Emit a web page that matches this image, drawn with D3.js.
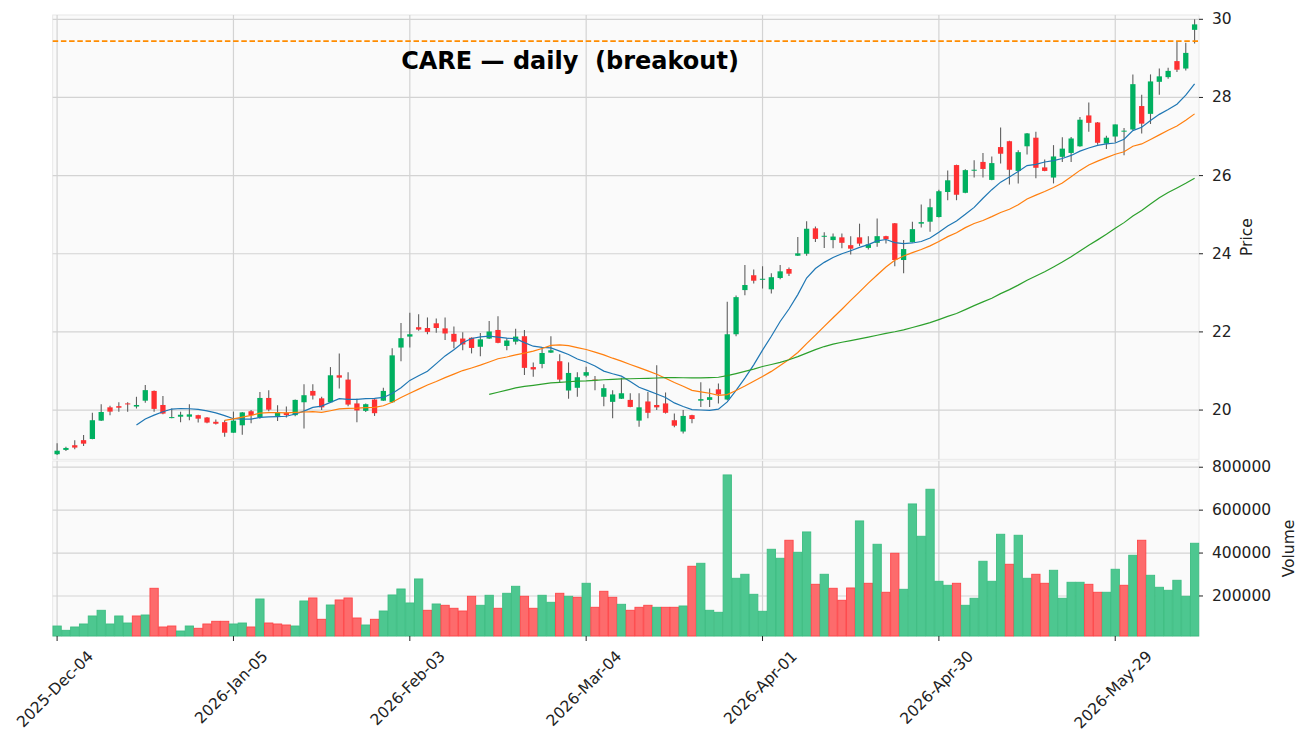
<!DOCTYPE html>
<html>
<head>
<meta charset="utf-8">
<script src="https://cdn.jsdelivr.net/npm/d3@7"></script>
<style>
  html, body { margin: 0; padding: 0; background: #fff; }
  svg text { font-family: 'DejaVu Sans', sans-serif; fill: #222; }
</style>
</head>
<body>
<svg id="chart" width="1309" height="750"></svg>
<script>
/* ════════════════════════════════════════
   CARE — daily candles + volume (breakout)
════════════════════════════════════════ */
const opens = [
  18.87,18.98,19.10,19.23,19.26,19.73,20.07,20.10,20.17,20.09,
  20.24,20.49,20.13,19.80,19.83,19.83,19.87,19.81,19.70,19.69,
  19.42,19.61,19.97,19.81,20.31,19.85,19.93,19.87,20.20,20.49,
  20.30,20.20,20.89,20.78,20.17,19.98,20.27,20.24,20.20,21.60,
  21.88,22.12,22.10,22.22,22.09,21.95,21.83,21.85,21.62,21.83,
  22.05,21.64,21.75,21.89,21.10,21.18,21.47,21.25,20.50,20.57,
  20.88,20.78,20.34,20.21,20.29,20.26,19.73,20.22,20.13,20.17,
  19.74,19.45,19.87,20.24,20.26,20.53,20.27,21.94,23.07,23.45,
  23.34,23.09,23.38,23.61,23.95,24.00,24.65,24.44,24.35,24.42,
  24.22,24.42,24.15,24.28,24.45,24.78,23.84,24.30,24.77,24.82,
  24.94,25.58,26.27,25.56,26.13,26.35,25.89,26.73,26.88,26.12,
  26.75,26.97,26.21,25.95,26.48,26.58,26.75,27.54,27.36,26.82,
  27.00,27.13,27.18,27.78,27.58,28.40,28.52,28.93,28.74,29.73
];
const highs = [
  19.15,19.06,19.23,19.36,19.93,20.15,20.11,20.20,20.20,20.34,
  20.64,20.50,20.36,20.04,19.96,20.15,19.88,19.82,19.76,19.74,
  19.96,19.95,20.00,20.46,20.51,20.12,20.09,20.27,20.66,20.66,
  20.34,21.10,21.45,20.97,20.29,20.17,20.28,20.57,21.58,22.23,
  22.49,22.45,22.37,22.34,22.37,22.14,21.99,21.86,21.97,22.28,
  22.40,21.84,22.08,22.05,21.22,21.59,21.89,21.43,21.22,20.97,
  21.11,20.87,20.66,20.51,20.83,20.43,20.43,20.46,21.15,20.45,
  19.91,20.00,19.88,20.71,20.55,20.68,22.77,22.93,23.71,23.60,
  23.68,23.50,23.71,23.65,24.43,24.83,24.70,24.55,24.52,24.52,
  24.45,24.77,24.45,24.90,24.46,24.79,24.35,24.82,25.26,25.41,
  25.64,26.13,26.28,26.16,26.39,26.58,26.49,27.23,26.89,26.65,
  27.09,27.12,26.41,26.78,26.98,26.99,27.50,27.87,27.37,27.02,
  27.31,27.22,28.59,28.07,28.59,28.74,28.76,29.44,29.40,30.00
];
const lows = [
  18.85,18.95,19.00,19.08,19.25,19.72,19.87,19.96,19.96,20.04,
  20.19,19.96,19.89,19.79,19.69,19.74,19.68,19.66,19.63,19.32,
  19.42,19.37,19.66,19.78,19.97,19.72,19.81,19.84,19.53,20.27,
  20.00,20.18,20.55,20.10,19.69,19.95,19.85,20.23,20.19,21.25,
  21.60,22.03,21.94,21.98,21.79,21.58,21.53,21.45,21.38,21.82,
  21.71,21.53,21.68,20.90,20.85,21.07,21.46,20.72,20.29,20.34,
  20.84,20.51,20.10,19.79,20.28,20.07,19.57,19.79,20.00,19.91,
  19.56,19.40,19.66,20.08,20.08,20.17,20.25,21.89,22.94,23.24,
  23.11,22.98,23.35,23.43,23.94,23.95,24.30,24.15,24.14,24.14,
  23.98,24.20,24.11,24.18,24.26,23.68,23.50,24.29,24.67,24.56,
  24.93,25.37,25.37,25.55,25.95,25.95,25.88,26.31,25.77,25.80,
  26.54,25.93,26.11,25.80,26.35,26.35,26.74,27.12,26.79,26.68,
  26.85,26.52,27.17,27.08,27.32,28.07,28.48,28.65,28.69,29.38
];
const closes = [
  18.96,19.03,19.04,19.14,19.74,19.95,19.96,20.06,20.15,20.13,
  20.51,20.03,19.91,19.82,19.88,19.89,19.78,19.68,19.65,19.42,
  19.73,19.94,19.87,20.31,20.01,19.93,19.87,20.26,20.38,20.37,
  20.07,20.89,20.83,20.14,19.99,20.15,19.92,20.49,21.40,21.84,
  21.94,22.06,22.00,22.10,21.96,21.75,21.68,21.59,21.81,22.01,
  21.72,21.78,21.88,21.08,21.04,21.46,21.53,20.78,20.95,20.84,
  20.97,20.76,20.56,20.40,20.43,20.08,20.07,19.93,20.07,19.93,
  19.60,19.85,19.77,20.28,20.33,20.40,21.94,22.89,23.20,23.31,
  23.36,23.40,23.55,23.49,24.01,24.64,24.38,24.46,24.44,24.28,
  24.13,24.26,24.24,24.45,24.37,23.84,24.12,24.63,24.81,25.19,
  25.60,25.88,25.51,26.14,26.15,26.17,26.32,26.56,26.15,26.60,
  27.08,26.20,26.12,26.49,26.69,26.95,27.43,27.35,26.84,26.97,
  27.31,27.15,28.34,27.33,28.41,28.54,28.68,28.71,29.14,29.87
];
const volumes = [
  60000,40000,55500,69500,106800,133300,69500,106800,74100,106800,
  111400,235900,55500,60100,36800,60100,49400,69500,82000,82000,
  69500,74100,55500,186000,74100,69500,64800,60100,176700,190700,
  91400,158000,181400,190700,97400,64800,91400,130000,204700,232600,
  167400,279300,133300,162700,156600,142700,130000,198600,156600,203300,
  142700,212600,245200,198600,142700,203300,170600,212600,198600,193900,
  259200,147300,221900,193900,161300,133300,147300,156600,147300,147300,
  147300,153400,338500,352400,133300,124000,764100,282500,301200,207900,
  128700,417700,375800,459700,403700,498400,254500,301200,235900,180000,
  237300,549700,259200,441000,217300,399100,231200,628900,478300,697400,
  268500,249900,259200,156600,189300,361800,268500,487600,347800,483000,
  282500,301200,259200,319800,189300,263900,263900,254500,217300,217300,
  324500,249900,389700,459700,296500,240600,226600,273200,198600,445700
];

const tickIdx    = [0, 20, 40, 60, 80, 100, 120];
const tickLabels = ['2025-Dec-04','2026-Jan-05','2026-Feb-03','2026-Mar-04','2026-Apr-01','2026-Apr-30','2026-May-29'];
const priceTicks = [20, 22, 24, 26, 28, 30];
const volTicks   = [200000, 400000, 600000, 800000];
const breakout   = 29.44;
const mavPeriods = [10, 20, 50];
const mavColors  = ['#1f77b4', '#ff7f0e', '#2ca02c'];

// 레이아웃
const L = 52.7, R = 1199;
const pTop = 15,  pBot = 459.3;
const vTop = 461, vBot = 636;

const UP = '#00b060', DOWN = '#fe3032', WICK = '#606060';

const svg = d3.select('#chart');
const n = closes.length;

const x  = d3.scaleLinear().domain([-0.5, n - 0.5]).range([L, R]);
const yP = d3.scaleLinear().domain([18.74, 30.11]).range([pBot, pTop]);
const yV = d3.scaleLinear().domain([13500, 829000]).range([vBot, vTop]);
const step = x(1) - x(0);

// 패널 배경
[[pTop, pBot], [vTop, vBot]].forEach(([t, b]) => {
  svg.append('rect')
    .attr('x', L).attr('y', t).attr('width', R - L).attr('height', b - t)
    .attr('fill', '#fafafa').attr('stroke', '#e8e8e8').attr('stroke-width', 1);
});

// grid
const grid = svg.append('g').attr('stroke', '#d3d3d3').attr('stroke-width', 1.2);
tickIdx.forEach(i => {
  grid.append('line').attr('x1', x(i)).attr('x2', x(i)).attr('y1', pTop).attr('y2', pBot);
  grid.append('line').attr('x1', x(i)).attr('x2', x(i)).attr('y1', vTop).attr('y2', vBot);
});
priceTicks.forEach(v => {
  grid.append('line').attr('x1', L).attr('x2', R).attr('y1', yP(v)).attr('y2', yP(v));
});
volTicks.forEach(v => {
  grid.append('line').attr('x1', L).attr('x2', R).attr('y1', yV(v)).attr('y2', yV(v));
});

// 캔들
const idx = d3.range(n);
const candles = svg.append('g');
candles.selectAll('line.wick')
  .data(idx).join('line')
  .attr('class', 'wick')
  .attr('x1', i => x(i)).attr('x2', i => x(i))
  .attr('y1', i => yP(highs[i])).attr('y2', i => yP(lows[i]))
  .attr('stroke', WICK).attr('stroke-width', 1.1);

const bodyW = step * 0.6;
candles.selectAll('rect.body')
  .data(idx).join('rect')
  .attr('class', 'body')
  .attr('x', i => x(i) - bodyW / 2)
  .attr('width', bodyW)
  .attr('y', i => yP(Math.max(opens[i], closes[i])))
  .attr('height', i => Math.max(1, Math.abs(yP(opens[i]) - yP(closes[i]))))
  .attr('fill', i => closes[i] >= opens[i] ? UP : DOWN);

// 이동평균
mavPeriods.forEach((p, k) => {
  const pts = [];
  for (let i = p - 1; i < n; i++) {
    pts.push([i, d3.mean(closes.slice(i - p + 1, i + 1))]);
  }
  svg.append('path')
    .datum(pts)
    .attr('fill', 'none')
    .attr('stroke', mavColors[k])
    .attr('stroke-width', 1.2)
    .attr('d', d3.line().x(d => x(d[0])).y(d => yP(d[1])));
});

// breakout 라인
svg.append('line')
  .attr('x1', L).attr('x2', R)
  .attr('y1', yP(breakout)).attr('y2', yP(breakout))
  .attr('stroke', '#ff8c00').attr('stroke-width', 1.8)
  .attr('stroke-dasharray', '5.5,2.7');

// 거래량 (전일 종가 대비 색)
const volUp = i => i === 0 || closes[i] >= closes[i - 1];
svg.append('g').selectAll('rect')
  .data(idx).join('rect')
  .attr('x', i => x(i) - step * 0.47)
  .attr('width', step * 0.94)
  .attr('y', i => yV(volumes[i]))
  .attr('height', i => vBot - yV(volumes[i]))
  .attr('fill', i => volUp(i) ? '#4dc790' : '#fd6b6c')
  .attr('stroke', i => volUp(i) ? '#3dbd82' : '#fe4548')
  .attr('stroke-width', 0.9);

// 오른쪽 축
const ax = svg.append('g');
priceTicks.forEach(v => {
  ax.append('line').attr('x1', R).attr('x2', R + 4).attr('y1', yP(v)).attr('y2', yP(v))
    .attr('stroke', '#222').attr('stroke-width', 1);
  ax.append('text').attr('x', R + 13).attr('y', yP(v))
    .attr('dominant-baseline', 'central').attr('font-size', 15.5).text(v);
});
volTicks.forEach(v => {
  ax.append('line').attr('x1', R).attr('x2', R + 4).attr('y1', yV(v)).attr('y2', yV(v))
    .attr('stroke', '#222').attr('stroke-width', 1);
  ax.append('text').attr('x', R + 13).attr('y', yV(v))
    .attr('dominant-baseline', 'central').attr('font-size', 15.5).text(v);
});
ax.append('text')
  .attr('transform', `translate(1247,${(pTop + pBot) / 2}) rotate(-90)`)
  .attr('text-anchor', 'middle').attr('dominant-baseline', 'central')
  .attr('font-size', 15.5).text('Price');
ax.append('text')
  .attr('transform', `translate(1289,${(vTop + vBot) / 2}) rotate(-90)`)
  .attr('text-anchor', 'middle').attr('dominant-baseline', 'central')
  .attr('font-size', 15.5).text('Volume');

// x축 날짜
tickIdx.forEach((i, k) => {
  ax.append('line').attr('x1', x(i)).attr('x2', x(i)).attr('y1', vBot).attr('y2', vBot + 5)
    .attr('stroke', '#222').attr('stroke-width', 1);
  const t = ax.append('text')
    .attr('text-anchor', 'middle').attr('dominant-baseline', 'central')
    .attr('font-size', 15.5).text(tickLabels[k]);
  const len = t.node().getComputedTextLength();
  const half = (len + 16) * Math.SQRT1_2 / 2;
  t.attr('transform', `translate(${x(i) - 2},${vBot + 12 + half}) rotate(-45)`);
});

// 제목 (공백 두 칸 유지)
svg.append('text')
  .attr('x', 570).attr('y', 69)
  .attr('text-anchor', 'middle')
  .attr('font-size', 24).attr('font-weight', 'bold')
  .style('fill', '#000')
  .style('white-space', 'pre')
  .text('CARE — daily  (breakout)');
</script>
</body>
</html>
